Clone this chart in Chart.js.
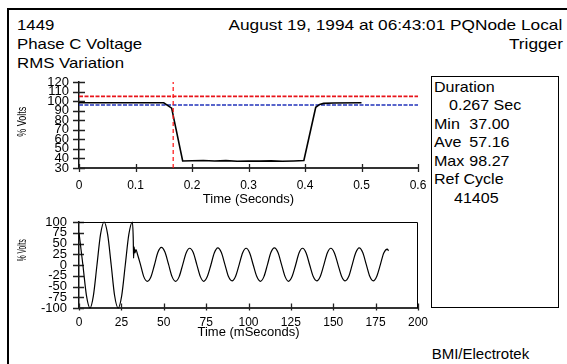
<!DOCTYPE html>
<html>
<head>
<meta charset="utf-8">
<script src="https://cdn.jsdelivr.net/npm/chart.js@4.4.1/dist/chart.umd.min.js"></script>
<style>
  html, body { margin: 0; padding: 0; background: #fff; }
  body { width: 567px; height: 364px; position: relative; overflow: hidden;
         font-family: "Liberation Sans", Arial, sans-serif; color: #000; }
  .frame { position: absolute; left: 7px; top: 8px; width: 700px; height: 500px;
           border-left: 2px solid #000; border-top: 2px solid #000; }
  .t { position: absolute; font-size: 15px; line-height: 15px; white-space: pre; }
  .l { transform: scaleX(1.12); transform-origin: left top; }
  .r { transform: scaleX(1.15); transform-origin: right top; text-align: right; }
  .b { transform: scaleX(1.07); transform-origin: left top; }
  .v { transform: scaleX(1.07); transform-origin: right top; text-align: right; }
  .box { position: absolute; left: 431px; top: 76px; width: 128px; height: 232px;
         border: 1px solid #000; box-sizing: border-box; }
  canvas { position: absolute; left: 0; }
</style>
</head>
<body>
<div class="frame"></div>

<div class="t l" style="left:17px; top:17.4px">1449</div>
<div class="t l" style="left:17px; top:36px">Phase C Voltage</div>
<div class="t l" style="left:17px; top:55px">RMS Variation</div>
<div class="t r" style="right:4.3px; top:17.4px">August 19, 1994 at 06:43:01 PQNode Local</div>
<div class="t r" style="right:4.3px; top:36.3px">Trigger</div>

<div class="box"></div>
<div class="t b" style="left:434px; top:79px">Duration</div>
<div class="t b" style="left:449px; top:97.4px">0.267 Sec</div>
<div class="t b" style="left:434px; top:115.9px">Min</div>
<div class="t v" style="right:57.5px; top:115.9px">37.00</div>
<div class="t b" style="left:434px; top:134.3px">Ave</div>
<div class="t v" style="right:57.5px; top:134.3px">57.16</div>
<div class="t b" style="left:434px; top:152.8px">Max</div>
<div class="t v" style="right:57.5px; top:152.8px">98.27</div>
<div class="t b" style="left:434px; top:171.2px">Ref Cycle</div>
<div class="t b" style="left:454px; top:189.7px">41405</div>

<div class="t" style="left:431.7px; top:346.3px">BMI/Electrotek</div>

<canvas id="rmsChart" width="430" height="145" style="top:70px"></canvas>
<canvas id="waveChart" width="430" height="150" style="top:205px"></canvas>

<script>
// RMS variation (top chart), time in seconds, % volts
const rmsSec = [0, 0.150, 0.164, 0.1835, 0.20, 0.22, 0.24, 0.26, 0.28, 0.30, 0.32, 0.34, 0.36, 0.38, 0.398, 0.419, 0.426, 0.433, 0.45, 0.50];
const rmsPct = [98.3, 98.3, 92.6, 37.4, 37.6, 37.9, 37.3, 37.7, 37.1, 37.4, 37.2, 37.5, 37.0, 37.3, 37.8, 93.5, 96.5, 97.6, 98.0, 98.3];
const upperLimit = 105;
const lowerLimit = 96;
const triggerSec = 0.1667;
const secTicks = [0, 0.1, 0.2, 0.3, 0.4, 0.5, 0.6];
const secTickLabels = ['0', '0.1', '0.2', '0.3', '0.4', '0.5', '0.6'];
const rmsTicks = [30, 40, 50, 60, 70, 80, 90, 100, 110, 120];

// waveform (bottom chart), time in milliseconds, % volts
const waveMs = [
  0, 2.3, 4.4, 6.5, 8.5, 10.6, 12.7, 14.8, 16.9, 19.0, 21.0, 23.1, 25.2, 27.3, 29.4, 31.5,
  32.0, 32.2, 32.5, 33.0, 33.6, 34.5, 36.2, 38.2,
  40.3, 42.4, 44.5, 46.5, 48.6, 50.7, 52.8, 54.9,
  57.0, 59.1, 61.2, 63.2, 65.3, 67.4, 69.5, 71.6,
  73.6, 75.7, 77.8, 79.8, 81.9, 84.0, 86.1, 88.2,
  90.3, 92.4, 94.5, 96.5, 98.6, 100.7, 102.8, 104.9,
  107.0, 109.1, 111.2, 113.2, 115.3, 117.4, 119.5, 121.6,
  123.6, 125.7, 127.8, 129.8, 131.9, 134.0, 136.1, 138.2,
  140.3, 142.4, 144.5, 146.5, 148.6, 150.7, 152.8, 154.9,
  157.0, 159.1, 161.2, 163.2, 165.3, 167.4, 169.5, 171.6,
  173.6, 175.7, 177.8, 179.8, 181.9, 182.6
];
const wavePct = [
  75, 0, -71, -100, -71, 0, 71, 100, 71, 0, -71, -100, -71, 0, 71, 100,
  62, 16, 42, 28, 36, 25, 2, -27,
  -38, -28, 0, 29, 41, 30, 2, -27,
  -38, -27, 1, 28, 39, 29, 1, -27,
  -38, -27, 0, 28, 40, 29, 1, -27,
  -37, -26, 1, 28, 39, 28, 0, -27,
  -38, -27, 1, 29, 40, 29, 1, -27,
  -38, -27, 0, 28, 39, 28, 0, -27,
  -37, -26, 1, 28, 39, 28, 1, -26,
  -37, -27, 1, 28, 40, 29, 1, -27,
  -37, -26, 1, 28, 37, 33
];
const msTicks = [0, 25, 50, 75, 100, 125, 150, 175, 200];
const waveTicks = [-100, -75, -50, -25, 0, 25, 50, 75, 100];

Chart.defaults.font.family = '"Liberation Sans", Arial, sans-serif';
Chart.defaults.color = '#000';

// ticks that cross the axis line, plus an optional box on top/right
function axisTicks(xUp, xDown, yOut, yIn, box) {
  return {
    id: 'axisTicks',
    beforeDatasetsDraw(chart) {
      const { ctx, chartArea: a, scales: { x, y } } = chart;
      ctx.save();
      ctx.strokeStyle = '#222';
      ctx.lineWidth = 1.3;
      ctx.beginPath();
      x.ticks.forEach(t => {
        const px = Math.round(x.getPixelForValue(t.value)) + 0.5;
        ctx.moveTo(px, a.bottom - xUp);
        ctx.lineTo(px, a.bottom + xDown);
      });
      y.ticks.forEach(t => {
        const py = Math.round(y.getPixelForValue(t.value)) + 0.5;
        ctx.moveTo(a.left - yOut, py);
        ctx.lineTo(a.left + yIn, py);
      });
      ctx.stroke();
      if (box) {
        ctx.lineWidth = 1;
        ctx.strokeStyle = '#000';
        ctx.beginPath();
        ctx.moveTo(a.left, Math.round(a.top) + 0.5);
        ctx.lineTo(Math.round(a.right) - 0.5, Math.round(a.top) + 0.5);
        ctx.lineTo(Math.round(a.right) - 0.5, a.bottom);
        ctx.stroke();
      }
      ctx.restore();
    }
  };
}

// rotated "% Volts" label, squeezed like the original
function yTitle(text, cx, cy, squeeze) {
  return {
    id: 'yTitle',
    afterDraw(chart) {
      const ctx = chart.ctx;
      ctx.save();
      ctx.translate(cx, cy);
      ctx.rotate(-Math.PI / 2);
      ctx.scale(squeeze, 1);
      ctx.font = '12px "Liberation Sans", Arial, sans-serif';
      ctx.fillStyle = '#000';
      ctx.textAlign = 'center';
      ctx.textBaseline = 'middle';
      ctx.fillText(text, 0, 0);
      ctx.restore();
    }
  };
}

function fixedTicks(values) {
  return scale => { scale.ticks = values.map(v => ({ value: v })); };
}
// keep the plot area where the layout padding puts it
function xFit(scale) {
  scale.height = 47;
  scale.paddingLeft = 0;
  scale.paddingRight = 0;
}
function yFit(scale) {
  scale.width = 79;
  scale.paddingTop = 0;
  scale.paddingBottom = 0;
}

const rmsChart = new Chart(document.getElementById('rmsChart'), {
  type: 'line',
  data: {
    datasets: [
      {
        data: [{ x: triggerSec, y: rmsTicks[0] }, { x: triggerSec, y: rmsTicks[rmsTicks.length - 1] }],
        borderColor: '#ff1010', borderWidth: 1.2, borderDash: [4, 3]
      },
      {
        data: rmsSec.map((s, i) => ({ x: s, y: rmsPct[i] })),
        borderColor: '#000', borderWidth: 1.6
      },
      {
        data: [{ x: secTicks[0], y: upperLimit }, { x: secTicks[secTicks.length - 1], y: upperLimit }],
        borderColor: '#e8141a', borderWidth: 1.6, borderDash: [4, 1.5]
      },
      {
        data: [{ x: secTicks[0], y: lowerLimit }, { x: secTicks[secTicks.length - 1], y: lowerLimit }],
        borderColor: '#2233bb', borderWidth: 1.6, borderDash: [4, 1.5]
      }
    ]
  },
  options: {
    responsive: false,
    animation: false,
    clip: false,
    elements: { point: { radius: 0 }, line: { tension: 0 } },
    layout: { padding: { top: 12, right: 12, left: 0, bottom: 0 } },
    plugins: { legend: { display: false }, tooltip: { enabled: false } },
    scales: {
      x: {
        type: 'linear', min: 0, max: 0.6,
        afterBuildTicks: fixedTicks(secTicks),
        afterFit: xFit,
        grid: { display: false, drawTicks: false },
        border: { display: true, color: '#333', width: 2 },
        ticks: { font: { size: 12 }, padding: 10, callback: (v, i) => secTickLabels[i] },
        title: { display: true, text: 'Time (Seconds)', font: { size: 13 }, padding: { top: 0, bottom: 8 } }
      },
      y: {
        min: 30, max: 120,
        afterBuildTicks: fixedTicks(rmsTicks),
        afterFit: yFit,
        grid: { display: false, drawTicks: false },
        border: { display: true, color: '#111', width: 1.5 },
        ticks: { font: { size: 13 }, padding: 10, autoSkip: false }
      }
    }
  },
  plugins: [axisTicks(4, 4, 6, 6, false), yTitle('% Volts', 22.4, 51.7, 0.75)]
});

const waveChart = new Chart(document.getElementById('waveChart'), {
  type: 'line',
  data: {
    datasets: [{
      data: waveMs.map((t, i) => ({ x: t, y: wavePct[i] })),
      borderColor: '#000', borderWidth: 1.2,
      cubicInterpolationMode: 'monotone'
    }]
  },
  options: {
    responsive: false,
    animation: false,
    clip: false,
    elements: { point: { radius: 0 } },
    layout: { padding: { top: 17, right: 12, left: 0, bottom: 0 } },
    plugins: { legend: { display: false }, tooltip: { enabled: false } },
    scales: {
      x: {
        type: 'linear', min: 0, max: 200,
        afterBuildTicks: fixedTicks(msTicks),
        afterFit: xFit,
        grid: { display: false, drawTicks: false },
        border: { display: true, color: '#333', width: 2 },
        ticks: { font: { size: 12 }, padding: 7 },
        title: { display: true, text: 'Time (mSeconds)', font: { size: 13 }, padding: { top: 0, bottom: 15 } }
      },
      y: {
        min: -100, max: 100,
        afterBuildTicks: fixedTicks(waveTicks),
        afterFit: yFit,
        grid: { display: false, drawTicks: false },
        border: { display: true, color: '#111', width: 1.5 },
        ticks: { font: { size: 13 }, padding: 12, autoSkip: false }
      }
    }
  },
  plugins: [axisTicks(4.5, 2.5, 6, 5, true), yTitle('% Volts', 22.4, 45.2, 0.55)]
});
</script>
</body>
</html>
